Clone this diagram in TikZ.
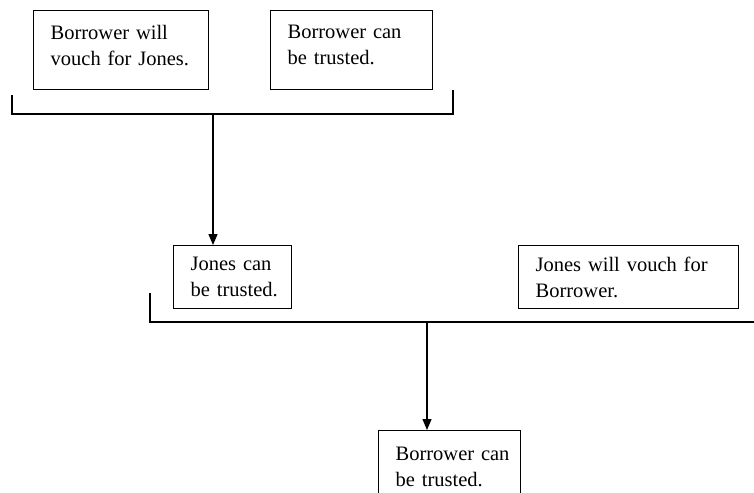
\documentclass[tikz,border=0pt]{standalone}
\usepackage{fontspec}
\setmainfont{Liberation Serif}
\usetikzlibrary{arrows.meta,positioning,calc}

\begin{document}
\begin{tikzpicture}[x=1pt,y=-1pt,
  claim/.style={draw, line width=1.3pt, anchor=north west, align=left,
    inner xsep=11pt, inner ysep=0pt, font=\fontsize{20.5}{26}\selectfont,
    execute at begin node={\leftskip=6pt}},
  tallclaim/.style={claim, execute at end node={\endgraf\vspace{#1}}},
  bracket/.style={line width=1.3pt},
  link/.style={line width=1.3pt, -{Triangle[width=9pt,length=11pt]}},
]
\useasboundingbox (0,0) rectangle (754,492);
% premises, first step
\node[tallclaim=10pt, text width=153pt, minimum height=79pt] (bvouch) at (33,10) {Borrower will\\vouch for Jones.};
\node[tallclaim=10pt, text width=140pt, minimum height=79pt] (btrust) at (270,10) {Borrower can\\be trusted.};
\coordinate (b1l) at (12,95);
\coordinate (b1r) at (453,90);
\coordinate (join1) at (213,114);
\draw[bracket] (b1l) |- (join1) -| (b1r);
% intermediate conclusion and second premise
\node[claim, text width=96pt, minimum height=63pt] (jtrust) at (173,245) {Jones can\\be trusted.};
\node[claim, text width=198pt, minimum height=63pt] (jvouch) at (518,245) {Jones will vouch for\\Borrower.};
\draw[link] (join1) -- (join1 |- jtrust.north);
\coordinate (b2l) at (150,293);
\coordinate (b2r) at (760,322);
\coordinate (join2) at (427,322);
\draw[bracket] (b2l) |- (join2) -- (b2r);
% final conclusion (cut off at the bottom)
\node[tallclaim=18pt, text width=120pt, minimum height=90pt] (bconcl) at (378,430) {Borrower can\\be trusted.};
\draw[link] (join2) -- (join2 |- bconcl.north);
\end{tikzpicture}
\end{document}
